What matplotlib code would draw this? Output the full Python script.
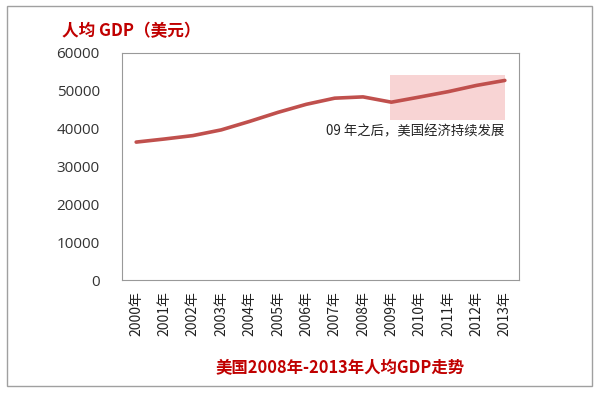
import matplotlib.pyplot as plt
from matplotlib.patches import Rectangle

plt.rcParams['font.family'] = ['Noto Sans CJK SC', 'DejaVu Sans']

years = ['2000年', '2001年', '2002年', '2003年', '2004年', '2005年', '2006年',
         '2007年', '2008年', '2009年', '2010年', '2011年', '2012年', '2013年']
gdp = [36450, 37270, 38170, 39680, 41920, 44310, 46440,
       48060, 48400, 47000, 48370, 49780, 51430, 52750]
yticks = [0, 10000, 20000, 30000, 40000, 50000, 60000]

red = '#c0504d'
title_red = '#c00000'

fig = plt.figure(figsize=(6, 3.94), dpi=100)
fig.patches.append(Rectangle((7 / 600, 8 / 394), 585 / 600, 380 / 394,
                             transform=fig.transFigure, fill=False,
                             edgecolor='#a0a0a0', lw=1))

ax = fig.add_axes([122 / 600, 114 / 394, 397 / 600, 227 / 394])
x = list(range(len(years)))

# highlight box after 2009
ax.add_patch(Rectangle((8.95, 42300), 13 - 8.95, 54200 - 42300,
                       facecolor='#f8d4d4', edgecolor='none', zorder=1))
ax.plot(x, gdp, color=red, lw=2.6, zorder=2, solid_capstyle='round')

ax.text(13, 41000, '09 年之后，美国经济持续发展', ha='right', va='top',
        fontsize=9.6, color='#222222')

ax.set_xlim(-0.5, 13.5)
ax.set_ylim(0, 60000)
ax.set_yticks(yticks)
ax.set_yticklabels([str(v) for v in yticks], fontsize=11, color='#333333',
                   family=['Open Sans', 'DejaVu Sans'])
ax.set_xticks(x)
ax.set_xticklabels(years, rotation=90, fontsize=10, color='#222222')
ax.tick_params(axis='y', length=0, pad=16)
ax.tick_params(axis='x', length=0, pad=8)
for s in ax.spines.values():
    s.set_color('#999999')
    s.set_linewidth(0.8)

fig.text(62 / 600, 1 - 31 / 394, '人均 GDP（美元）', fontsize=12,
         fontweight='bold', color=title_red, va='center', ha='left')
fig.text(340 / 600, 1 - 368 / 394, '美国2008年-2013年人均GDP走势', fontsize=11.8,
         fontweight='bold', color=title_red, va='center', ha='center')

fig.savefig('out.png', dpi=100)
